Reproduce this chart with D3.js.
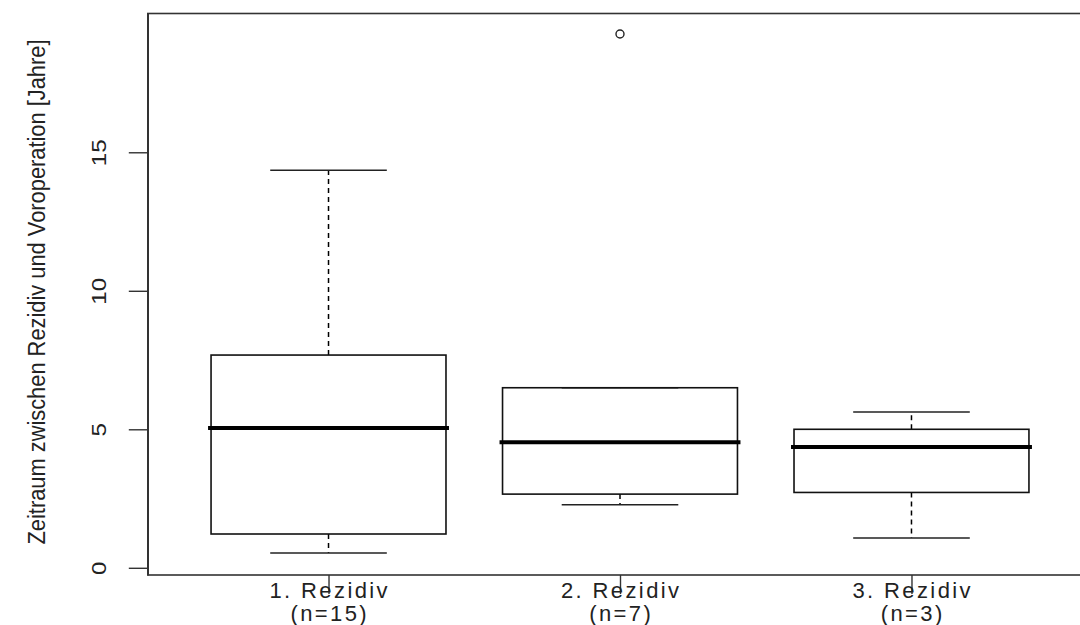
<!DOCTYPE html>
<html>
<head>
<meta charset="utf-8">
<script src="https://cdn.jsdelivr.net/npm/d3@7"></script>
<style>
  body { margin: 0; background: #fff; }
  svg { display: block; font-family: "Liberation Sans", Arial, sans-serif; }
</style>
</head>
<body>
<svg id="chart" width="1080" height="625"></svg>
<script>
"use strict";

// values
var categories = ["1. Rezidiv", "2. Rezidiv", "3. Rezidiv"];
var groupSizes = ["(n=15)", "(n=7)", "(n=3)"];
var lowerWhisker = [0.53, 2.28, 1.08];
var q1 = [1.22, 2.66, 2.72];
var median = [5.05, 4.53, 4.36];
var q3 = [7.68, 6.50, 5.00];
var upperWhisker = [14.35, 6.50, 5.62];
var outliers = [[], [19.27], []];
var yTicks = [0, 5, 10, 15];

var svg = d3.select("#chart");

var x = d3.scaleLinear().domain([0.38, 3.62]).range([147.8, 1092.2]);
var y = d3.scaleLinear().domain([-0.26, 20.01]).range([575, 13.5]);

var boxHalf = 0.403, capHalf = 0.2;

var boxes = categories.map(function(c, i) {
  return {
    pos: i + 1, name: c, n: groupSizes[i],
    lo: lowerWhisker[i], q1: q1[i], med: median[i], q3: q3[i], hi: upperWhisker[i],
    out: outliers[i]
  };
});

// frame
svg.append("rect")
  .attr("x", x(0.38)).attr("y", y(20.01))
  .attr("width", x(3.62) - x(0.38))
  .attr("height", y(-0.26) - y(20.01))
  .attr("fill", "none")
  .attr("stroke", "#333")
  .attr("stroke-width", 1.6);

// y axis
var yAxis = svg.append("g")
  .attr("transform", "translate(" + x(0.38) + ",0)")
  .call(d3.axisLeft(y).tickValues(yTicks).tickSize(19).tickSizeOuter(0));
yAxis.select(".domain").attr("stroke", "#333").attr("stroke-width", 1.4);
yAxis.selectAll(".tick line").attr("stroke", "#333").attr("stroke-width", 1.4);
yAxis.selectAll(".tick text")
  .attr("x", 0).attr("y", 0)
  .attr("dy", null)
  .attr("transform", "translate(-47,0) rotate(-90) scale(1.15,1)")
  .attr("text-anchor", "middle")
  .attr("dominant-baseline", "middle")
  .style("font-size", "21px")
  .attr("fill", "#222")
  .attr("font-family", "'Liberation Sans', Arial, sans-serif");

// x axis ticks and labels
var xAxis = svg.append("g")
  .attr("transform", "translate(0," + y(-0.26) + ")")
  .call(d3.axisBottom(x).tickValues([1, 2, 3]).tickSize(19).tickFormat(""));
xAxis.select(".domain").remove();
xAxis.selectAll(".tick line").attr("stroke", "#333").attr("stroke-width", 1.4);

var labels = svg.append("g");
labels.selectAll("text.cat")
  .data(boxes).enter().append("text")
  .attr("class", "cat")
  .attr("x", function(d) { return x(d.pos) + 1.2; })
  .attr("y", 598)
  .attr("text-anchor", "middle")
  .style("font-size", "22px")
  .style("letter-spacing", "2.4px")
  .attr("fill", "#222")
  .text(function(d) { return d.name; });
labels.selectAll("text.n")
  .data(boxes).enter().append("text")
  .attr("class", "n")
  .attr("x", function(d) { return x(d.pos) + 1.2; })
  .attr("y", 621)
  .attr("text-anchor", "middle")
  .style("font-size", "22px")
  .style("letter-spacing", "2.4px")
  .attr("fill", "#222")
  .text(function(d) { return d.n; });

// y title
svg.append("text")
  .attr("transform", "translate(45," + 292 + ") rotate(-90)")
  .attr("text-anchor", "middle")
  .attr("textLength", 505)
  .attr("lengthAdjust", "spacingAndGlyphs")
  .style("font-size", "23px")
  .attr("fill", "#222")
  .text("Zeitraum zwischen Rezidiv und Voroperation [Jahre]");

// boxplots
var g = svg.selectAll("g.box")
  .data(boxes).enter().append("g")
  .attr("class", "box");

// whiskers
g.append("line")
  .attr("x1", function(d) { return x(d.pos); })
  .attr("x2", function(d) { return x(d.pos); })
  .attr("y1", function(d) { return y(d.q3); })
  .attr("y2", function(d) { return y(d.hi); })
  .attr("stroke", "#000").attr("stroke-width", 1.5)
  .attr("stroke-dasharray", "5,4");
g.append("line")
  .attr("x1", function(d) { return x(d.pos); })
  .attr("x2", function(d) { return x(d.pos); })
  .attr("y1", function(d) { return y(d.q1); })
  .attr("y2", function(d) { return y(d.lo); })
  .attr("stroke", "#000").attr("stroke-width", 1.5)
  .attr("stroke-dasharray", "5,4");

// caps
["hi", "lo"].forEach(function(k) {
  g.append("line")
    .attr("x1", function(d) { return x(d.pos - capHalf); })
    .attr("x2", function(d) { return x(d.pos + capHalf); })
    .attr("y1", function(d) { return y(d[k]); })
    .attr("y2", function(d) { return y(d[k]); })
    .attr("stroke", "#222").attr("stroke-width", 1.5);
});

// box
g.append("rect")
  .attr("x", function(d) { return x(d.pos - boxHalf); })
  .attr("width", function(d) { return x(d.pos + boxHalf) - x(d.pos - boxHalf); })
  .attr("y", function(d) { return y(d.q3); })
  .attr("height", function(d) { return y(d.q1) - y(d.q3); })
  .attr("fill", "none")
  .attr("stroke", "#111").attr("stroke-width", 1.6);

// median
g.append("line")
  .attr("x1", function(d) { return x(d.pos - boxHalf) - 3; })
  .attr("x2", function(d) { return x(d.pos + boxHalf) + 3; })
  .attr("y1", function(d) { return y(d.med); })
  .attr("y2", function(d) { return y(d.med); })
  .attr("stroke", "#000").attr("stroke-width", 4);

// outliers
g.selectAll("circle")
  .data(function(d) { return d.out.map(function(v) { return {pos: d.pos, v: v}; }); })
  .enter().append("circle")
  .attr("cx", function(d) { return x(d.pos); })
  .attr("cy", function(d) { return y(d.v); })
  .attr("r", 4)
  .attr("fill", "none")
  .attr("stroke", "#222").attr("stroke-width", 1.4);
</script>
</body>
</html>
